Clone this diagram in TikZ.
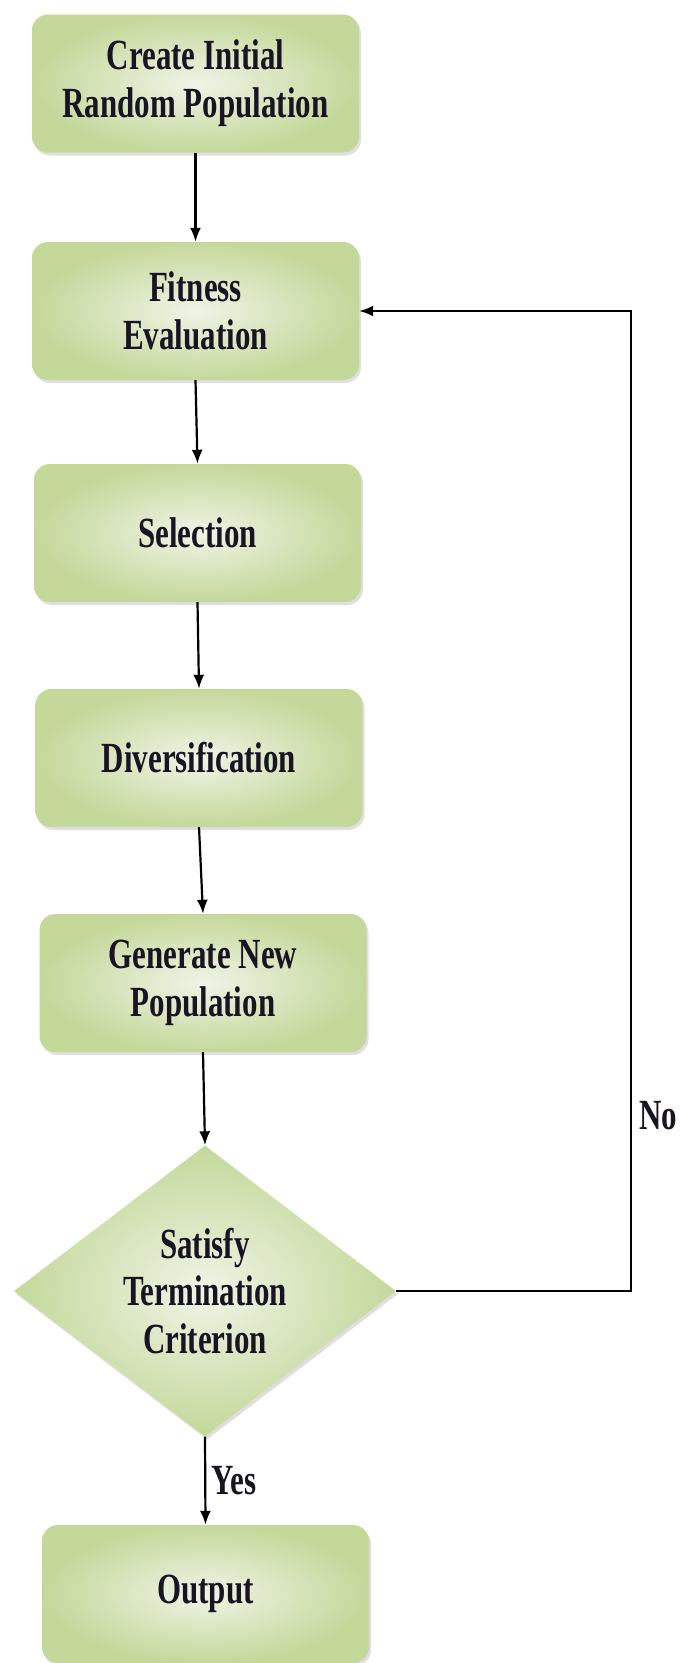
\documentclass[tikz,border=0pt]{standalone}
\usepackage{fontspec}
\newfontfamily\lblfont{Liberation Serif}[UprightFont={* Bold}, FakeStretch=0.72]
\usetikzlibrary{arrows.meta,shapes.geometric,shadows}
\definecolor{gout}{RGB}{196,216,154}
\definecolor{gin}{RGB}{240,244,230}
\definecolor{txt}{RGB}{25,20,35}
\tikzset{
  lbl/.style={font=\lblfont\fontsize{43}{47.7}\selectfont, text=txt, align=center},
  box/.style={lbl, rectangle, rounded corners=16pt, minimum width=327pt, minimum height=138pt,
    inner color=gin, outer color=gout, draw=none,
    drop shadow={shadow xshift=2pt, shadow yshift=-3pt, opacity=0.25}},
  decision/.style={diamond, minimum width=382pt, minimum height=291pt, inner sep=0pt,
    inner color=gin, outer color=gout, draw=none,
    drop shadow={shadow xshift=2pt, shadow yshift=-3pt, opacity=0.25}},
  arr/.style={draw=black, line width=2.2pt, -{Latex[length=14pt,width=11pt]}},
}
\begin{document}
\begin{tikzpicture}[x=1pt,y=-1pt]
\useasboundingbox (0,0) rectangle (681,1663);
\clip (0,0) rectangle (681,1663);
\node[box] (b1) at (195.5,83.5) {Create Initial\\Random Population};
\node[box] (b2) at (195.5,311) {Fitness\\Evaluation};
\node[box] (b3) at (197.5,533) {Selection};
\node[box] (b4) at (199,758) {Diversification};
\node[box] (b5) at (203,983) {Generate New\\Population};
\node[decision] (d) at (205,1291) {};
\node[lbl] (dt) at (d.center) {Satisfy\\Termination\\Criterion};
\node[box] (b6) at (205.5,1594) {Output};
\coordinate (nr) at (631,1291);
\draw[arr] (b1.south) -- (b2.north);
\draw[arr] (b2.south) -- (b3.north);
\draw[arr] (b3.south) -- (b4.north);
\draw[arr] (b4.south) -- (b5.north);
\draw[arr] (b5.south) -- (d.north);
\draw[arr] (d.south) -- node[lbl, right, xshift=2pt] (yes) {Yes} (b6.north);
\draw[arr] (d.east) -- (nr) |- (b2.east);
\node[lbl] (no) at (658,1116) {No};
\end{tikzpicture}
\end{document}
